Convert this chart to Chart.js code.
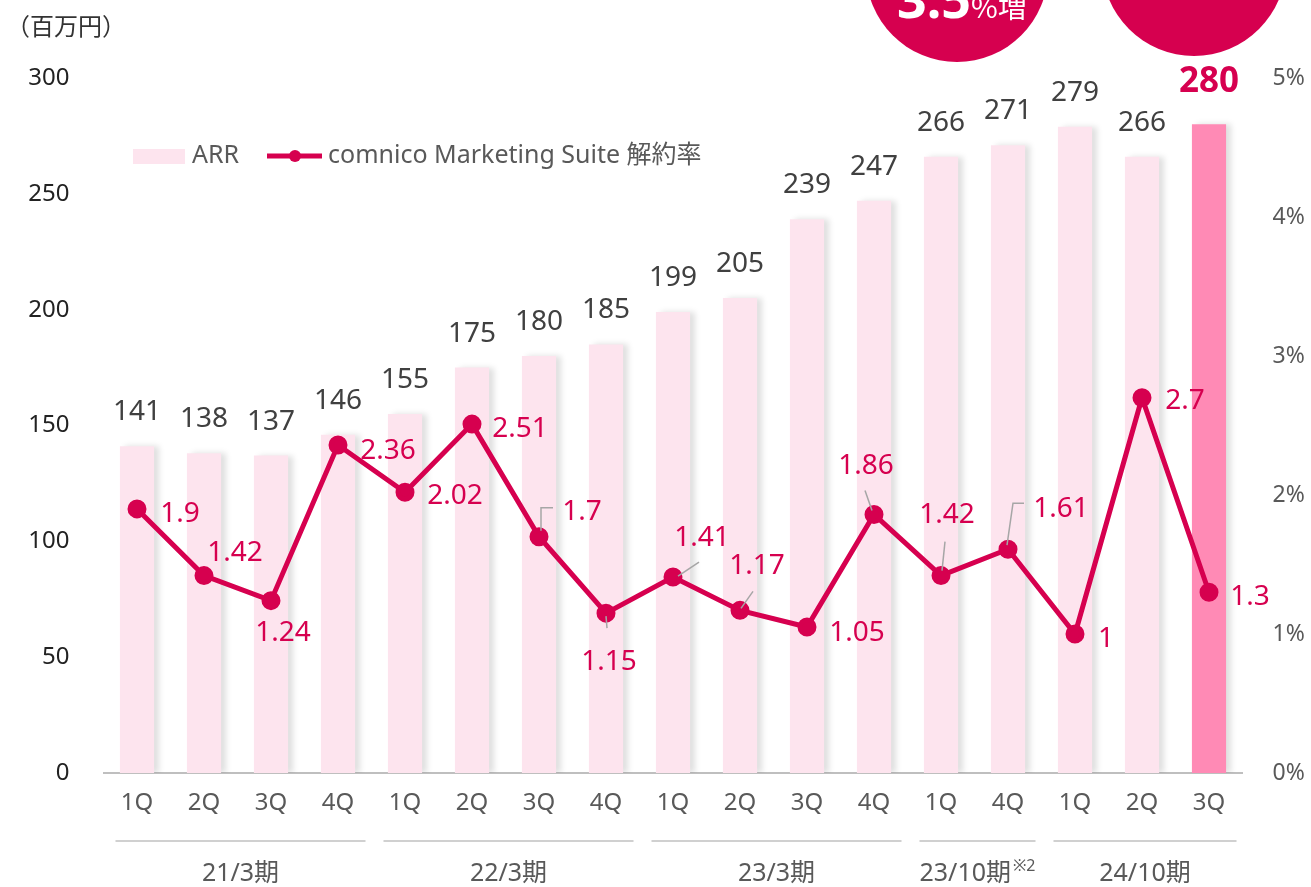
<!DOCTYPE html>
<html>
<head>
<meta charset="utf-8">
<script src="https://cdn.jsdelivr.net/npm/chart.js@4.4.1/dist/chart.umd.min.js"></script>
<style>
  html, body { margin: 0; padding: 0; background: #fff; overflow: hidden; }
  #wrap { position: relative; width: 1311px; height: 887px; font-family: "Noto Sans", "Noto Sans CJK JP", sans-serif; }
  #chart { position: absolute; left: 0; top: 0; }
  .unit { position: absolute; left: 6px; top: 7px; font-size: 24px; color: #333; font-family: "Noto Sans CJK JP", sans-serif; }
  .badge { position: absolute; border-radius: 50%; background: #d6004f; }
  .badge-text { position: absolute; color: #fff; font-weight: bold; white-space: nowrap; }
</style>
</head>
<body>
<div id="wrap">
  <canvas id="chart" width="1311" height="887"></canvas>
  <div class="unit">（百万円）</div>
  <div class="badge" style="left:866px; top:-120px; width:182px; height:182px;"></div>
  <div class="badge" style="left:1102px; top:-128px; width:184px; height:184px;"></div>
  <div class="badge-text" style="left:897px; top:-38px; font-size:52px;">3.5<span style="font-size:29px; font-weight:normal; font-family:'Noto Sans CJK JP',sans-serif;">%増</span></div>
</div>
<script>
// quarters on the x axis
const quarters = ['1Q', '2Q', '3Q', '4Q', '1Q', '2Q', '3Q', '4Q', '1Q', '2Q', '3Q', '4Q', '1Q', '4Q', '1Q', '2Q', '3Q']
// ARR (百万円)
const arrValues = [141, 138, 137, 146, 155, 175, 180, 185, 199, 205, 239, 247, 266, 271, 279, 266, 280]
// 解約率 (%)
const churnValues = [1.9, 1.42, 1.24, 2.36, 2.02, 2.51, 1.7, 1.15, 1.41, 1.17, 1.05, 1.86, 1.42, 1.61, 1, 2.7, 1.3]
// fiscal periods and the quarter index range each one covers
const periods = ['21/3期', '22/3期', '23/3期', '23/10期', '24/10期']
const periodFirst = [0, 4, 8, 12, 14]
const periodLast = [3, 7, 11, 13, 16]
const periodNotes = ['', '', '', '※2', '']

const CRIMSON = '#d6004f'
const FONT = '"Noto Sans", "Noto Sans CJK JP", sans-serif'

// churn label placement relative to its point (dx, dy), plus optional leader lines
const churnLabelOffsets = [
  [43, 5], [31, -23], [12, 32], [50, 6], [50, 4], [48, 5], [43, -25], [3, 49], [29, -39],
  [17, -44], [50, 6], [-8, -48], [6, -61], [53, -40], [31, 5], [43, 3], [41, 5],
]
const churnLeaders = {
  6: [[2, -6], [2, -29], [14, -29]],
  7: [[0, 3], [1, 15]],
  8: [[5, -1], [26, -15]],
  9: [[1, -2], [13, -19]],
  11: [[-2, -4], [-9, -24]],
  12: [[1, -5], [4, -34]],
  13: [[-1, -4], [5, -46], [16, -46]],
}

const labelsPlugin = {
  id: 'labels',
  beforeDatasetDraw(chart, args) {
    if (args.meta.type === 'bar') {
      const ctx = chart.ctx
      ctx.save()
      ctx.shadowColor = 'rgba(0,0,0,0.13)'
      ctx.shadowOffsetX = 5
      ctx.shadowOffsetY = 0
      ctx.shadowBlur = 6
    }
  },
  afterDatasetDraw(chart, args) {
    if (args.meta.type === 'bar') chart.ctx.restore()
  },
  afterDatasetsDraw(chart) {
    const ctx = chart.ctx
    const barMeta = chart.getDatasetMeta(1)
    const lineMeta = chart.getDatasetMeta(0)
    ctx.save()
    ctx.textAlign = 'center'
    ctx.textBaseline = 'middle'

    // bar value labels
    barMeta.data.forEach((bar, i) => {
      const last = i === arrValues.length - 1
      ctx.font = last ? `bold 35px ${FONT}` : `28px ${FONT}`
      ctx.fillStyle = last ? CRIMSON : '#404040'
      ctx.fillText(String(arrValues[i]), bar.x, bar.y - (last ? 42 : 34))
    })

    // leader lines
    ctx.strokeStyle = '#a6a6a6'
    ctx.lineWidth = 1.5
    Object.keys(churnLeaders).forEach(k => {
      const pt = lineMeta.data[k]
      const path = churnLeaders[k]
      ctx.beginPath()
      path.forEach(([dx, dy], j) => {
        if (j === 0) ctx.moveTo(pt.x + dx, pt.y + dy)
        else ctx.lineTo(pt.x + dx, pt.y + dy)
      })
      ctx.stroke()
    })

    // churn labels
    ctx.font = `28px ${FONT}`
    ctx.fillStyle = CRIMSON
    lineMeta.data.forEach((pt, i) => {
      const [dx, dy] = churnLabelOffsets[i]
      ctx.fillText(String(churnValues[i]), pt.x + dx, pt.y + dy)
    })

    // fiscal period groups under the axis
    const x = chart.scales.x
    const half = (x.getPixelForValue(1) - x.getPixelForValue(0)) / 2
    periods.forEach((name, g) => {
      const x0 = x.getPixelForValue(periodFirst[g]) - half + 12
      const x1 = x.getPixelForValue(periodLast[g]) + half - 6
      ctx.strokeStyle = '#d0d0d0'
      ctx.lineWidth = 2
      ctx.beginPath()
      ctx.moveTo(x0, 841)
      ctx.lineTo(x1, 841)
      ctx.stroke()

      const cx = (x0 + x1) / 2
      ctx.font = `25px ${FONT}`
      const w = ctx.measureText(name).width
      ctx.font = `16px ${FONT}`
      const wn = periodNotes[g] ? ctx.measureText(periodNotes[g]).width + 2 : 0
      const left = cx - (w + wn) / 2
      ctx.textAlign = 'left'
      ctx.fillStyle = '#595959'
      ctx.font = `25px ${FONT}`
      ctx.fillText(name, left, 874)
      if (wn) {
        ctx.font = `16px ${FONT}`
        ctx.fillText(periodNotes[g], left + w + 2, 866)
      }
      ctx.textAlign = 'center'
    })

    // legend
    const ly = 156
    ctx.fillStyle = '#fde4ee'
    ctx.fillRect(133, ly - 7, 52, 15)
    ctx.fillStyle = '#595959'
    ctx.font = `25px ${FONT}`
    ctx.textAlign = 'left'
    ctx.fillText('ARR', 192, ly)
    ctx.strokeStyle = CRIMSON
    ctx.lineWidth = 5
    ctx.beginPath()
    ctx.moveTo(267, ly)
    ctx.lineTo(322, ly)
    ctx.stroke()
    ctx.fillStyle = CRIMSON
    ctx.beginPath()
    ctx.arc(295, ly, 6, 0, Math.PI * 2)
    ctx.fill()
    ctx.fillStyle = '#595959'
    ctx.fillText('comnico Marketing Suite 解約率', 328, ly)
    ctx.restore()
  },
}

new Chart(document.getElementById('chart'), {
  data: {
    labels: quarters,
    datasets: [
      {
        type: 'line',
        label: 'comnico Marketing Suite 解約率',
        data: churnValues,
        yAxisID: 'y1',
        borderColor: CRIMSON,
        backgroundColor: CRIMSON,
        borderWidth: 5,
        pointRadius: 7,
        pointHoverRadius: 7,
        tension: 0,
        order: 0,
      },
      {
        type: 'bar',
        label: 'ARR',
        data: arrValues,
        yAxisID: 'y',
        backgroundColor: c => (c.dataIndex === arrValues.length - 1 ? '#ff8ab5' : '#fde4ee'),
        barPercentage: 0.51,
        categoryPercentage: 1,
        order: 1,
      },
    ],
  },
  options: {
    responsive: false,
    animation: false,
    layout: { padding: { top: 78, left: 0, right: 0, bottom: 0 } },
    plugins: {
      legend: { display: false },
      tooltip: { enabled: false },
    },
    scales: {
      x: {
        grid: { display: false, drawTicks: false },
        border: { display: true, color: '#bfbfbf', width: 2 },
        ticks: { color: '#595959', font: { size: 24, family: FONT }, padding: 16, maxRotation: 0, autoSkip: false },
        afterFit: s => { s.height = 114 },
      },
      y: {
        position: 'left',
        min: 0,
        max: 300,
        grid: { display: false, drawTicks: false },
        border: { display: false },
        ticks: { stepSize: 50, color: '#222', font: { size: 24, family: FONT }, padding: 34 },
        afterFit: s => { s.width = 103.5 },
      },
      y1: {
        position: 'right',
        min: 0,
        max: 5,
        grid: { display: false, drawTicks: false },
        border: { display: false },
        ticks: { stepSize: 1, color: '#595959', font: { size: 23, family: FONT }, padding: 30, callback: v => v + '%' },
        afterFit: s => { s.width = 68.5 },
      },
    },
  },
  plugins: [labelsPlugin],
})
</script>
</body>
</html>
